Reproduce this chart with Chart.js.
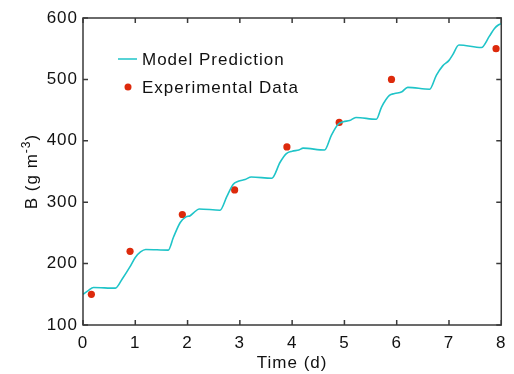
<!DOCTYPE html>
<html>
<head>
<meta charset="utf-8">
<script src="https://cdn.jsdelivr.net/npm/chart.js@4.4.0/dist/chart.umd.min.js"></script>
<style>
  html, body { margin: 0; padding: 0; background: #fff; }
  #wrap { width: 514px; height: 374px; }
</style>
</head>
<body>
<div id="wrap"><canvas id="chart" width="514" height="374"></canvas></div>
<script>
// model prediction
var modelTime = [0, 0.1, 0.2, 0.62, 0.75, 0.9, 1.0, 1.1, 1.2, 1.63, 1.73, 1.86, 1.97, 2.05, 2.12, 2.22,
  2.62, 2.75, 2.87, 2.97, 3.1, 3.22, 3.61, 3.77, 3.89, 4.0, 4.13, 4.21, 4.62, 4.75, 4.88, 4.98,
  5.1, 5.22, 5.61, 5.71, 5.86, 5.96, 6.1, 6.21, 6.63, 6.76, 6.88, 7.0, 7.07, 7.19, 7.62, 7.77,
  7.87, 7.95, 8.0];
var modelB = [150, 156, 161, 160, 175, 195, 210, 219, 223, 222, 243, 267, 276, 278, 283, 289,
  287, 309, 329, 334, 337, 341, 339, 365, 379, 383, 385, 388, 385, 409, 427, 431,
  433, 438, 435, 455, 474, 477, 480, 487, 484, 507, 522, 531, 540, 556, 552, 570,
  583, 589, 591];

// experimental data
var expTime = [0.16, 0.9, 1.9, 2.9, 3.9, 4.9, 5.9, 7.9];
var expB = [150, 220, 280, 320, 390, 430, 500, 550];

var xTicks = [0, 1, 2, 3, 4, 5, 6, 7, 8];
var yTicks = [100, 200, 300, 400, 500, 600];

var lineColor = "#1fc4c8";
var dotColor = "#dd2a0c";
var fontFamily = "'Liberation Sans', Arial, sans-serif";

function toPoints(xs, ys) {
	var pts = [];
	for (var i = 0; i < xs.length; i++) {
		pts.push({ x: xs[i], y: ys[i] });
	}
	return pts;
}

// the original text is a bit wider than Arial, so space it out
var spacingPlugin = {
	id: "spacing",
	beforeDraw: function(chart) {
		chart.ctx.letterSpacing = "1px";
	}
};

// box around the plot plus inward ticks on all sides
var framePlugin = {
	id: "frame",
	afterDatasetsDraw: function(chart) {
		var ctx = chart.ctx;
		var a = chart.chartArea;
		var sx = chart.scales.x, sy = chart.scales.y;
		var len = 5;
		ctx.save();
		ctx.strokeStyle = "#3a3a3a";
		ctx.lineWidth = 1.5;
		ctx.strokeRect(a.left, a.top, a.right - a.left, a.bottom - a.top);
		ctx.beginPath();
		xTicks.forEach(function(v) {
			var px = sx.getPixelForValue(v);
			ctx.moveTo(px, a.bottom); ctx.lineTo(px, a.bottom - len);
			ctx.moveTo(px, a.top); ctx.lineTo(px, a.top + len);
		});
		yTicks.forEach(function(v) {
			var py = sy.getPixelForValue(v);
			ctx.moveTo(a.left, py); ctx.lineTo(a.left + len, py);
			ctx.moveTo(a.right, py); ctx.lineTo(a.right - len, py);
		});
		ctx.stroke();
		ctx.restore();
	}
};

// y title with superscript, and the legend inside the plot
var textPlugin = {
	id: "texts",
	afterDraw: function(chart) {
		var ctx = chart.ctx;
		var a = chart.chartArea;
		ctx.save();
		ctx.letterSpacing = "1px";
		ctx.fillStyle = "#111";

		// y axis title
		var main = "17px " + fontFamily, sup = "12px " + fontFamily;
		ctx.font = main;
		var w1 = ctx.measureText("B (g m").width;
		var w3 = ctx.measureText(")").width;
		ctx.font = sup;
		var w2 = ctx.measureText("-3").width;
		var total = w1 + w2 + w3;
		ctx.translate(37, (a.top + a.bottom) / 2);
		ctx.rotate(-Math.PI / 2);
		ctx.textBaseline = "alphabetic";
		ctx.textAlign = "left";
		var x0 = -total / 2;
		ctx.font = main;
		ctx.fillText("B (g m", x0, 0);
		ctx.font = sup;
		ctx.fillText("-3", x0 + w1, -7);
		ctx.font = main;
		ctx.fillText(")", x0 + w1 + w2, 0);
		ctx.setTransform(1, 0, 0, 1, 0, 0);

		// legend
		var ds = chart.data.datasets;
		ctx.font = main;
		ctx.textBaseline = "middle";
		ctx.fillStyle = "#111";
		var lx = 118, tx = 142;
		ctx.strokeStyle = lineColor;
		ctx.lineWidth = 1.5;
		ctx.beginPath();
		ctx.moveTo(lx, 59); ctx.lineTo(lx + 19, 59);
		ctx.stroke();
		ctx.fillText(ds[0].label, tx, 60);
		ctx.fillStyle = dotColor;
		ctx.beginPath();
		ctx.arc(128, 87, 3.5, 0, Math.PI * 2);
		ctx.fill();
		ctx.fillStyle = "#111";
		ctx.fillText(ds[1].label, tx, 88);
		ctx.restore();
	}
};

var ctx = document.getElementById("chart");

var chart = new Chart(ctx, {
	type: "scatter",
	data: {
		datasets: [
			{
				label: "Model Prediction",
				data: toPoints(modelTime, modelB),
				showLine: true,
				borderColor: lineColor,
				borderWidth: 1.6,
				pointRadius: 0,
				cubicInterpolationMode: "monotone",
				fill: false
			},
			{
				label: "Experimental Data",
				data: toPoints(expTime, expB),
				showLine: false,
				backgroundColor: dotColor,
				borderWidth: 0,
				pointRadius: 3.6
			}
		]
	},
	options: {
		responsive: false,
		animation: false,
		devicePixelRatio: 1,
		layout: { padding: { left: 0, right: 12, top: 18, bottom: 0 } },
		plugins: {
			legend: { display: false },
			tooltip: { enabled: false }
		},
		scales: {
			x: {
				type: "linear",
				min: 0,
				max: 8,
				afterFit: function(s) { s.height = 49; },
				afterBuildTicks: function(s) { s.ticks = xTicks.map(function(v) { return { value: v }; }); },
				grid: { display: false, drawTicks: false },
				border: { display: false },
				ticks: { padding: 8, color: "#111", font: { family: fontFamily, size: 17 } },
				title: {
					display: true,
					text: "Time (d)",
					color: "#111",
					padding: { top: 0, bottom: 0 },
					font: { family: fontFamily, size: 17 }
				}
			},
			y: {
				type: "linear",
				min: 100,
				max: 600,
				afterFit: function(s) { s.width = 83; },
				afterBuildTicks: function(s) { s.ticks = yTicks.map(function(v) { return { value: v }; }); },
				grid: { display: false, drawTicks: false },
				border: { display: false },
				ticks: { padding: 5, color: "#111", font: { family: fontFamily, size: 17 } }
			}
		}
	},
	plugins: [spacingPlugin, framePlugin, textPlugin]
});
</script>
</body>
</html>
